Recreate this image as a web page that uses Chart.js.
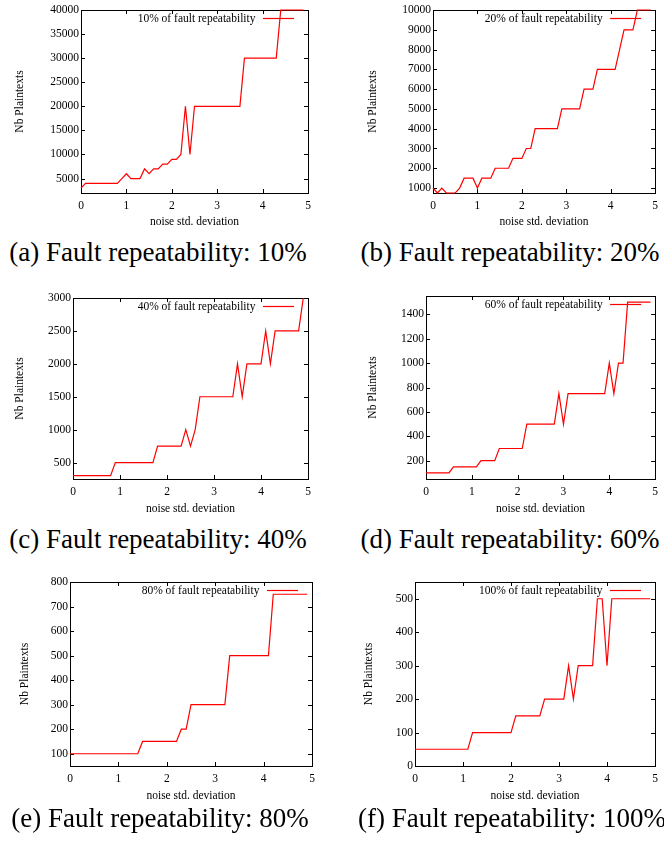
<!DOCTYPE html>
<html><head><meta charset="utf-8">
<script src="https://cdn.jsdelivr.net/npm/chart.js@4"></script>
<style>
html,body{margin:0;padding:0;background:#fff;width:664px;height:841px;overflow:hidden;}
canvas{position:absolute;}
.cap{position:absolute;font-family:"Liberation Serif",serif;font-size:27px;line-height:27px;color:#000;white-space:nowrap;transform:translateX(-50%);}
</style></head><body>
<canvas id="ca" width="332" height="235" style="left:0;top:0"></canvas>
<canvas id="cb" width="332" height="235" style="left:332px;top:0"></canvas>
<canvas id="cc" width="332" height="240" style="left:0;top:280px"></canvas>
<canvas id="cd" width="332" height="240" style="left:332px;top:280px"></canvas>
<canvas id="ce" width="332" height="240" style="left:0;top:565px"></canvas>
<canvas id="cf" width="332" height="240" style="left:332px;top:565px"></canvas>
<div class="cap" style="left:158px;top:239px">(a) Fault repeatability: 10%</div>
<div class="cap" style="left:510px;top:239px">(b) Fault repeatability: 20%</div>
<div class="cap" style="left:158px;top:526px">(c) Fault repeatability: 40%</div>
<div class="cap" style="left:510px;top:526px">(d) Fault repeatability: 60%</div>
<div class="cap" style="left:160px;top:805px">(e) Fault repeatability: 80%</div>
<div class="cap" style="left:512px;top:805px">(f) Fault repeatability: 100%</div>
<script>
// ---- data ----
const noise = [0,0.1,0.2,0.3,0.4,0.5,0.6,0.7,0.8,0.9,
  1,1.1,1.2,1.3,1.4,1.5,1.6,1.7,1.8,1.9,
  2,2.1,2.2,2.3,2.4,2.5,2.6,2.7,2.8,2.9,
  3,3.1,3.2,3.3,3.4,3.5,3.6,3.7,3.8,3.9,
  4,4.1,4.2,4.3,4.4,4.5,4.6,4.7,4.8,4.9];
const rep10 = [3000,4000,4000,4000,4000,4000,4000,4000,4000,5000,
  6000,5000,5000,5000,7000,6000,7000,7000,8000,8000,
  9000,9000,10000,20000,10000,20000,20000,20000,20000,20000,
  20000,20000,20000,20000,20000,20000,30000,30000,30000,30000,
  30000,30000,30000,30000,40000,40000,40000,40000,40000,40000];
const rep20 = [1000,750,1000,750,750,750,1000,1500,1500,1500,
  1000,1500,1500,1500,2000,2000,2000,2000,2500,2500,
  2500,3000,3000,4000,4000,4000,4000,4000,4000,5000,
  5000,5000,5000,5000,6000,6000,6000,7000,7000,7000,
  7000,7000,8000,9000,9000,9000,10000,10000,10000,10000];
const rep40 = [300,300,300,300,300,300,300,300,300,500,
  500,500,500,500,500,500,500,500,750,750,
  750,750,750,750,1000,750,1000,1500,1500,1500,
  1500,1500,1500,1500,1500,2000,1500,2000,2000,2000,
  2000,2500,2000,2500,2500,2500,2500,2500,2500,3000];
const rep60 = [100,100,100,100,100,100,150,150,150,150,
  150,150,200,200,200,200,300,300,300,300,
  300,300,500,500,500,500,500,500,500,750,
  500,750,750,750,750,750,750,750,750,750,
  1000,750,1000,1000,1500,1500,1500,1500,1500,1500];
const rep80 = [100,100,100,100,100,100,100,100,100,100,
  100,100,100,100,100,150,150,150,150,150,
  150,150,150,200,200,300,300,300,300,300,
  300,300,300,500,500,500,500,500,500,500,
  500,500,750,750,750,750,750,750,750,750];
const rep100 = [50,50,50,50,50,50,50,50,50,50,
  50,50,100,100,100,100,100,100,100,100,
  100,150,150,150,150,150,150,200,200,200,
  200,200,300,200,300,300,300,300,500,500,
  300,500,500,500,500,500,500,500,500,500];
const xTicks = [0,1,2,3,4,5];
const yTicks10 = [5000,10000,15000,20000,25000,30000,35000,40000];
const yTicks20 = [1000,2000,3000,4000,5000,6000,7000,8000,9000,10000];
const yTicks40 = [500,1000,1500,2000,2500,3000];
const yTicks60 = [200,400,600,800,1000,1200,1400];
const yTicks80 = [100,200,300,400,500,600,700,800];
const yTicks100 = [0,100,200,300,400,500];
const labels = ['10% of fault repeatability','20% of fault repeatability','40% of fault repeatability',
  '60% of fault repeatability','80% of fault repeatability','100% of fault repeatability'];
const yTitle = 'Nb Plaintexts';
const xTitle = 'noise std. deviation';

// ---- layout (canvas-relative) ----
const FONT = '"Liberation Serif", "Times New Roman", serif';
const FS = 11.5;
const panels = [
  {id:'ca', vals:rep10, yt:yTicks10, ymin:2000, ymax:40000, lab:labels[0], yW:81, xH:42, pt:10, pr:24, ytp:12.6, xtp:6.1},
  {id:'cb', vals:rep20, yt:yTicks20, ymin:750, ymax:10000, lab:labels[1], yW:101, xH:42, pt:10, pr:4, ytp:33.6, xtp:6.1},
  {id:'cc', vals:rep40, yt:yTicks40, ymin:250, ymax:3000, lab:labels[2], yW:73, xH:41, pt:18, pr:24, ytp:12.6, xtp:4.1},
  {id:'cd', vals:rep60, yt:yTicks60, ymin:50, ymax:1550, lab:labels[3], yW:94, xH:41, pt:16, pr:4, ytp:33.6, xtp:4.1},
  {id:'ce', vals:rep80, yt:yTicks80, ymin:50, ymax:800, lab:labels[4], yW:70, xH:39, pt:17, pr:20, ytp:17.6, xtp:2.1},
  {id:'cf', vals:rep100, yt:yTicks100, ymin:0, ymax:550, lab:labels[5], yW:83, xH:39, pt:17, pr:9, ytp:29.6, xtp:2.1}
];

const gnuplotFrame = {
  id:'gnuplotFrame',
  beforeDatasetsDraw(chart){
    const {ctx, chartArea:a, scales:{x,y}} = chart;
    const L = 4;
    ctx.save();
    ctx.strokeStyle = '#000'; ctx.lineWidth = 1;
    ctx.beginPath();
    x.ticks.forEach(t=>{
      const px = Math.round(x.getPixelForValue(t.value))+0.5;
      ctx.moveTo(px,a.bottom); ctx.lineTo(px,a.bottom-L);
      ctx.moveTo(px,a.top); ctx.lineTo(px,a.top+L);
    });
    y.ticks.forEach(t=>{
      const py = Math.round(y.getPixelForValue(t.value))+0.5;
      ctx.moveTo(a.left,py); ctx.lineTo(a.left+L,py);
      ctx.moveTo(a.right,py); ctx.lineTo(a.right-L,py);
    });
    ctx.stroke();
    ctx.strokeRect(Math.round(a.left)+0.5, Math.round(a.top)+0.5, Math.round(a.right-a.left), Math.round(a.bottom-a.top));
    ctx.restore();
  },
  afterDatasetsDraw(chart){
    const {ctx, chartArea:a} = chart;
    const ds = chart.data.datasets[0];
    const ly = Math.round(a.top+8)+0.5;
    ctx.save();
    ctx.fillStyle = '#000';
    ctx.font = FS+'px '+FONT;
    ctx.textAlign = 'right'; ctx.textBaseline = 'middle';
    ctx.fillText(ds.label, a.right-52.5, ly);
    ctx.strokeStyle = ds.borderColor; ctx.lineWidth = ds.borderWidth;
    ctx.beginPath(); ctx.moveTo(a.right-45, ly); ctx.lineTo(a.right-14, ly); ctx.stroke();
    ctx.restore();
  }
};

panels.forEach(p=>{
  new Chart(document.getElementById(p.id), {
    type:'line',
    data:{datasets:[{label:p.lab, data:noise.map((n,i)=>({x:n,y:p.vals[i]})),
      borderColor:'#ff0000', borderWidth:1.2, pointRadius:0, tension:0, fill:false, clip:3}]},
    options:{
      responsive:false, animation:false, devicePixelRatio:1,
      layout:{padding:{top:p.pt, right:p.pr, left:0, bottom:0}},
      plugins:{legend:{display:false}, tooltip:{enabled:false}},
      scales:{
        x:{type:'linear', min:0, max:5,
          grid:{display:false, drawTicks:false}, border:{display:false},
          afterBuildTicks:s=>{s.ticks = xTicks.map(v=>({value:v}));},
          afterFit:s=>{s.height = p.xH;},
          ticks:{color:'#000', font:{family:FONT, size:FS}, padding:6, maxRotation:0, autoSkip:false,
            callback:v=>String(v)},
          title:{display:true, text:xTitle, color:'#000', font:{family:FONT, size:FS}, padding:{top:0,bottom:p.xtp}}
        },
        y:{type:'linear', min:p.ymin, max:p.ymax,
          grid:{display:false, drawTicks:false}, border:{display:false},
          afterBuildTicks:s=>{s.ticks = p.yt.map(v=>({value:v}));},
          afterFit:s=>{s.width = p.yW;},
          ticks:{color:'#000', font:{family:FONT, size:FS}, padding:2, autoSkip:false,
            callback:v=>String(v)},
          title:{display:true, text:yTitle, color:'#000', font:{family:FONT, size:FS}, padding:{top:p.ytp,bottom:0}}
        }
      }
    },
    plugins:[gnuplotFrame]
  });
});
</script>
</body></html>
